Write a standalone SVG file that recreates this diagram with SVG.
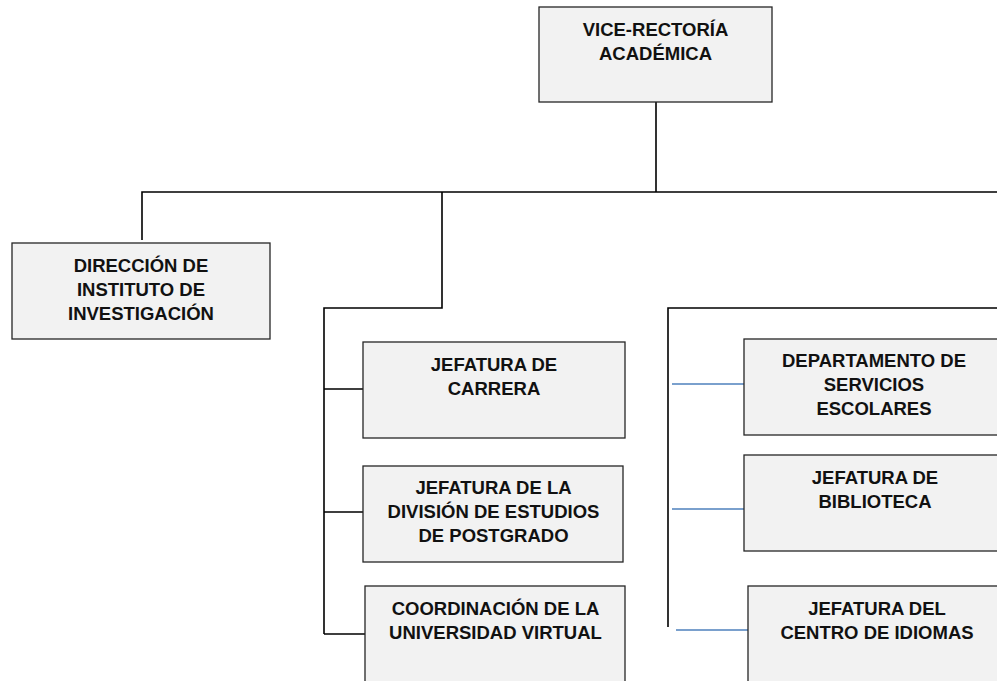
<svg xmlns="http://www.w3.org/2000/svg" width="997" height="681" viewBox="0 0 997 681">
<style>
.box{fill:#f2f2f2;stroke:#262626;stroke-width:1.3}
.t{font-family:"Liberation Sans",Arial,sans-serif;font-weight:bold;font-size:18.5px;fill:#111;text-anchor:middle}
.k{fill:none;stroke:#000;stroke-width:1.6}
.b{fill:none;stroke:#4f81bd;stroke-width:1.5}
</style>
<rect width="997" height="681" fill="#fff"/>
<g id="connectors">
<path class="k" d="M656 102V192M142 240V192H997M442 192V308H324V634M324 389H363M324 512H363M324 634H365"/>
<path class="k" d="M668 627V308H997"/>
<path class="b" d="M672 384H744M672 509H744M676 630H748"/>
</g>
<g id="vice">
<rect class="box" x="539" y="7" width="233" height="95"/>
<text class="t" x="655.5" y="36">VICE-RECTORÍA</text>
<text class="t" x="655.5" y="60">ACADÉMICA</text>
</g>
<g id="direccion">
<rect class="box" x="12" y="243" width="258" height="96"/>
<text class="t" x="141" y="272">DIRECCIÓN DE</text>
<text class="t" x="141" y="296">INSTITUTO DE</text>
<text class="t" x="141" y="320">INVESTIGACIÓN</text>
</g>
<g id="carrera">
<rect class="box" x="363" y="342" width="262" height="96"/>
<text class="t" x="494" y="371">JEFATURA DE</text>
<text class="t" x="494" y="395">CARRERA</text>
</g>
<g id="postgrado">
<rect class="box" x="363" y="466" width="260" height="96"/>
<text class="t" x="493.5" y="493.5">JEFATURA DE LA</text>
<text class="t" x="493.5" y="517.5">DIVISIÓN DE ESTUDIOS</text>
<text class="t" x="493.5" y="541.5">DE POSTGRADO</text>
</g>
<g id="virtual">
<rect class="box" x="365" y="586" width="260" height="110"/>
<text class="t" x="495.5" y="615">COORDINACIÓN DE LA</text>
<text class="t" x="495.5" y="638.5">UNIVERSIDAD VIRTUAL</text>
</g>
<g id="escolares">
<rect class="box" x="744" y="339" width="262" height="96"/>
<text class="t" x="874" y="366.5">DEPARTAMENTO DE</text>
<text class="t" x="874" y="390.5">SERVICIOS</text>
<text class="t" x="874" y="415">ESCOLARES</text>
</g>
<g id="biblioteca">
<rect class="box" x="744" y="455" width="262" height="96"/>
<text class="t" x="875" y="483.5">JEFATURA DE</text>
<text class="t" x="875" y="508">BIBLIOTECA</text>
</g>
<g id="idiomas">
<rect class="box" x="748" y="586" width="262" height="110"/>
<text class="t" x="877" y="615">JEFATURA DEL</text>
<text class="t" x="877" y="638.5">CENTRO DE IDIOMAS</text>
</g>
</svg>
